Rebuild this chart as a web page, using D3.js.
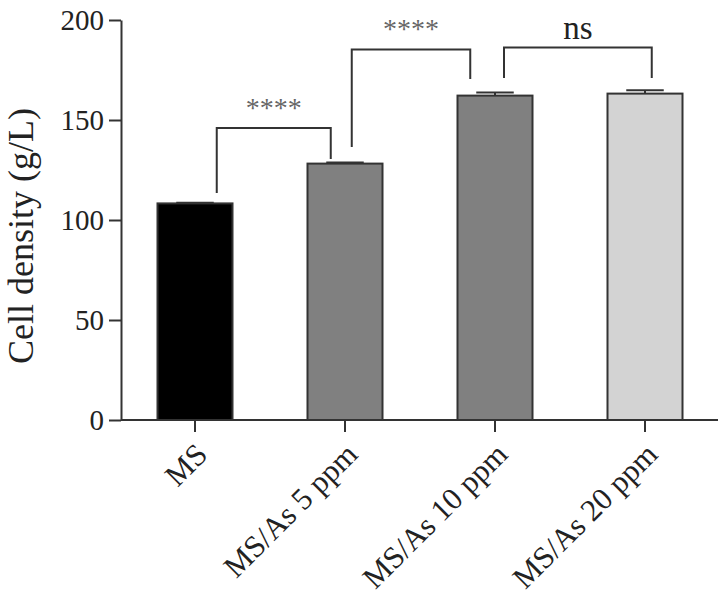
<!DOCTYPE html>
<html>
<head>
<meta charset="utf-8">
<script src="https://cdn.jsdelivr.net/npm/d3@7"></script>
<style>
  body { margin: 0; background: #fff; }
</style>
</head>
<body>
<svg width="718" height="595"></svg>
<script>
// данные
const categories = ["MS", "MS/As 5 ppm", "MS/As 10 ppm", "MS/As 20 ppm"];
const means = [108.3, 128.2, 162.2, 163.2];
const errors = [0.3, 0.5, 1.5, 1.7];
const fills = ["#000000", "#808080", "#808080", "#d3d3d3"];
const yTicks = [0, 50, 100, 150, 200];

// скобки сравнений: уровни в единицах оси y
const brackets = [
  { from: 0, to: 1, top: 146, leftEnd: 113.5, rightEnd: 130.5, label: "****" },
  { from: 1, to: 2, top: 185.3, leftEnd: 136.5, rightEnd: 170.5, label: "****" },
  { from: 2, to: 3, top: 186.2, leftEnd: 171, rightEnd: 171, label: "ns" }
];
// смещения ножек скобок от центра столбца (доли ширины столбца)
const legShift = [[0.29, -0.19], [0.09, -0.33], [0.12, 0.09]];

const svg = d3.select("svg");

const x = d3.scaleBand()
  .domain(categories)
  .range([120, 720])
  .paddingInner(0.5)
  .paddingOuter(0.25);

const y = d3.scaleLinear()
  .domain([0, 200])
  .range([420, 20]);

const axisColor = "#333";
const serif = "'Liberation Serif', 'Times New Roman', serif";

// столбцы
svg.selectAll("rect.bar")
  .data(categories)
  .join("rect")
  .attr("class", "bar")
  .attr("x", d => x(d))
  .attr("y", (d, i) => y(means[i]))
  .attr("width", x.bandwidth())
  .attr("height", (d, i) => y(0) - y(means[i]))
  .attr("fill", (d, i) => fills[i])
  .attr("stroke", axisColor)
  .attr("stroke-width", 2);

// планки погрешностей
const cx = d => x(d) + x.bandwidth() / 2;
const capHalf = x.bandwidth() / 4;
const err = svg.append("g").attr("stroke", axisColor).attr("stroke-width", 2);
categories.forEach((c, i) => {
  err.append("line")
    .attr("x1", cx(c)).attr("x2", cx(c))
    .attr("y1", y(means[i])).attr("y2", y(means[i] + errors[i]));
  err.append("line")
    .attr("x1", cx(c) - capHalf).attr("x2", cx(c) + capHalf)
    .attr("y1", y(means[i] + errors[i])).attr("y2", y(means[i] + errors[i]));
});

// оси
const yAxis = svg.append("g")
  .attr("transform", "translate(121,0)")
  .call(d3.axisLeft(y).tickValues(yTicks).tickSize(12).tickSizeOuter(0).tickPadding(5));

const xAxis = svg.append("g")
  .attr("transform", `translate(0,${y(0)})`)
  .call(d3.axisBottom(x).tickSize(12).tickSizeOuter(0));

[yAxis, xAxis].forEach(a => {
  a.attr("font-family", serif);
  a.select(".domain").attr("stroke", axisColor).attr("stroke-width", 2);
  a.selectAll(".tick line").attr("stroke", axisColor).attr("stroke-width", 2);
  a.selectAll("text")
    .attr("fill", "#222")
    .style("font-family", serif)
    .style("font-size", "29px");
});
xAxis.select(".domain").attr("d", "M121,0H718");

xAxis.selectAll(".tick text")
  .style("font-size", "31px")
  .attr("text-anchor", "end")
  .attr("dy", "0.35em")
  .attr("transform", "translate(-4,18) rotate(-45)");

// подпись оси y
svg.append("text")
  .attr("transform", `translate(33,${y(92)}) rotate(-90)`)
  .attr("text-anchor", "middle")
  .attr("fill", "#222")
  .style("font-family", serif)
  .style("font-size", "36px")
  .text("Cell density (g/L)");

// скобки
const br = svg.append("g");
brackets.forEach((b, k) => {
  const x1 = cx(categories[b.from]) + legShift[k][0] * x.bandwidth();
  const x2 = cx(categories[b.to]) + legShift[k][1] * x.bandwidth();
  const path = d3.path();
  path.moveTo(x1, y(b.leftEnd));
  path.lineTo(x1, y(b.top));
  path.lineTo(x2, y(b.top));
  path.lineTo(x2, y(b.rightEnd));
  br.append("path")
    .attr("d", path.toString())
    .attr("fill", "none")
    .attr("stroke", axisColor)
    .attr("stroke-width", 2);
  const isStars = b.label.startsWith("*");
  br.append("text")
    .attr("x", (x1 + x2) / 2)
    .attr("y", y(b.top) - (isStars ? 11 : 9))
    .attr("text-anchor", "middle")
    .attr("fill", isStars ? "#666" : "#222")
    .style("font-family", serif)
    .style("font-size", isStars ? "28px" : "33px")
    .text(b.label);
});
</script>
</body>
</html>
